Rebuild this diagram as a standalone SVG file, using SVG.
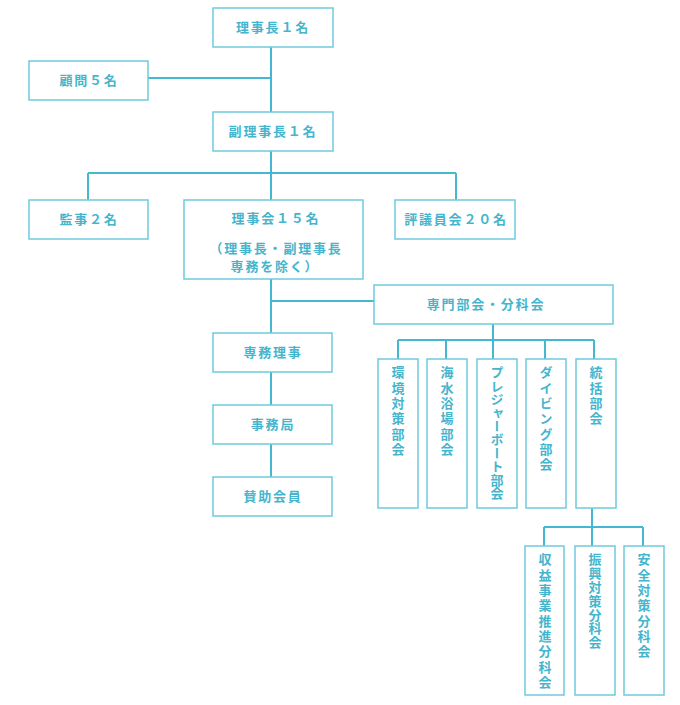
<svg xmlns="http://www.w3.org/2000/svg" width="680" height="705" viewBox="0 0 680 705">
<style>
.box{fill:#ffffff;stroke:#6fcadd;stroke-width:1.5}
.ln{stroke:#45b8d1;stroke-width:2;fill:none}
.t{font-family:"Noto Sans CJK JP","Noto Sans",sans-serif;font-size:13px;font-weight:bold;fill:#45b5cd;letter-spacing:1.8px}
.h{text-anchor:middle}
.v{writing-mode:vertical-rl;letter-spacing:2.3px}
</style>
<rect width="680" height="705" fill="#ffffff"/>
<g id="connectors">
<path class="ln" d="M271 47V112M148 78H271M271 151V200M88 173H456M88 173V200M456 173V200"/>
<path class="ln" d="M271 279V333M271 301H374M271 372V405M271 444V477"/>
<path class="ln" d="M493 324V340M398 340H594M398 340V359M446 340V359M493 340V359M545 340V359M594 340V359"/>
<path class="ln" d="M592 508V546M544 527H643M544 527V546M643 527V546"/>
</g>
<g id="n1"><rect class="box" x="213" y="8" width="120" height="39"/><text class="t h" x="273" y="32">理事長１名</text></g>
<g id="n2"><rect class="box" x="29" y="61" width="119" height="39"/><text class="t h" x="89" y="85">顧問５名</text></g>
<g id="n3"><rect class="box" x="213" y="112" width="120" height="39"/><text class="t h" x="273" y="136">副理事長１名</text></g>
<g id="n4"><rect class="box" x="29" y="200" width="119" height="39"/><text class="t h" x="89" y="224">監事２名</text></g>
<g id="n5"><rect class="box" x="184" y="200" width="179" height="79"/>
<text class="t h" x="276" y="223">理事会１５名</text>
<text class="t h" x="276" y="253">（理事長・副理事長</text>
<text class="t h" x="275" y="271">専務を除く）</text></g>
<g id="n6"><rect class="box" x="395" y="200" width="120" height="39"/><text class="t h" x="456" y="224">評議員会２０名</text></g>
<g id="n7"><rect class="box" x="374" y="285" width="239" height="39"/><text class="t h" x="486" y="309">専門部会・分科会</text></g>
<g id="n8"><rect class="box" x="213" y="333" width="119" height="39"/><text class="t h" x="273" y="357">専務理事</text></g>
<g id="n9"><rect class="box" x="213" y="405" width="119" height="39"/><text class="t h" x="273" y="429">事務局</text></g>
<g id="n10"><rect class="box" x="213" y="477" width="119" height="39"/><text class="t h" x="273" y="501">賛助会員</text></g>
<g id="n11"><rect class="box" x="378" y="359" width="40" height="149"/><text class="t v" x="398" y="366">環境対策部会</text></g>
<g id="n12"><rect class="box" x="427" y="359" width="40" height="149"/><text class="t v" x="447" y="366">海水浴場部会</text></g>
<g id="n13"><rect class="box" x="477" y="359" width="40" height="149"/><text class="t v" x="497" y="366" style="letter-spacing:0.4px">プレジャーボート部会</text></g>
<g id="n14"><rect class="box" x="526" y="359" width="40" height="149"/><text class="t v" x="546" y="366">ダイビング部会</text></g>
<g id="n15"><rect class="box" x="576" y="359" width="40" height="149"/><text class="t v" x="596" y="366">統括部会</text></g>
<g id="n16"><rect class="box" x="525" y="546" width="39" height="149"/><text class="t v" x="545" y="553">収益事業推進分科会</text></g>
<g id="n17"><rect class="box" x="575" y="546" width="40" height="149"/><text class="t v" x="595" y="553" style="letter-spacing:0.8px">振興対策分科会</text></g>
<g id="n18"><rect class="box" x="624" y="546" width="40" height="149"/><text class="t v" x="644" y="553">安全対策分科会</text></g>
</svg>
